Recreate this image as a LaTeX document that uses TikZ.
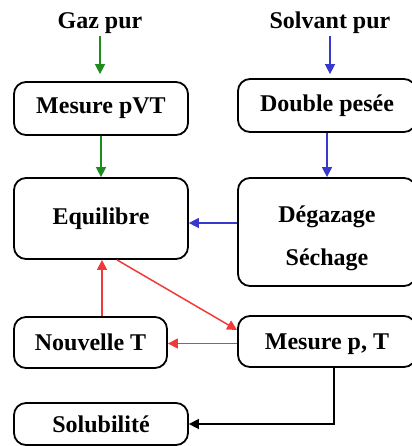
\documentclass[tikz,border=0pt]{standalone}
\usepackage{fontspec}
\setmainfont{Liberation Serif}
\usetikzlibrary{arrows.meta, positioning}
\definecolor{gazgreen}{HTML}{1E8C1E}
\definecolor{solvblue}{HTML}{3838CC}
\definecolor{cyclered}{HTML}{F03A3A}

\begin{document}
\begin{tikzpicture}[
  x=0.5pt, y=-0.5pt,
  box/.style={rectangle, draw, line width=0.9pt, rounded corners=6pt, align=center, inner sep=0pt, font=\fontsize{12}{21.5}\selectfont\bfseries},
  title/.style={inner sep=1pt, font=\fontsize{12}{14}\selectfont\bfseries},
  flow/.style={-{Triangle[length=5pt,width=5pt]}, line width=0.75pt}
]
  \clip (0,0) rectangle (412,446);

  \node[title] (gaz) at (100,23) {Gaz pur};
  \node[title] (solv) at (330,23) {Solvant pur};

  \node[box, minimum width=87pt, minimum height=26.5pt] (pvt) at (101,108.5) {Mesure pVT};
  \node[box, minimum width=87pt, minimum height=40.5pt] (equil) at (101,218.5) {Equilibre};
  \node[box, minimum width=76.5pt, minimum height=25.5pt] (nouv) at (90.5,342.5) {Nouvelle T};
  \node[box, minimum width=87pt, minimum height=21pt] (solub) at (101,424) {Solubilité};

  \node[box, minimum width=89pt, minimum height=26.5pt] (pesee) at (327,105.5) {Double pesée};
  \node[box, minimum width=89pt, minimum height=54pt] (degaz) at (327,232) {\rule{0pt}{15pt}Dégazage\\Séchage};
  \node[box, minimum width=89pt, minimum height=25.5pt, text depth=0pt] (mpt) at (327,341.5) {Mesure p, T};

  % gaz and solvent lines
  \draw[flow, gazgreen, shorten >=3.5pt] (gaz) -- (gaz |- pvt.north);
  \draw[flow, gazgreen] (pvt) -- (equil);
  \draw[flow, solvblue, shorten >=2pt] (solv) -- (solv |- pesee.north);
  \draw[flow, solvblue] (pesee) -- (degaz);
  \draw[flow, solvblue] ([yshift=4.5pt]degaz.west) -- ([yshift=4.5pt]degaz.west -| equil.east);

  % temperature cycle
  \draw[flow, cyclered] ([xshift=8pt]equil.south) -- ([yshift=5.75pt]mpt.west);
  \draw[flow, cyclered] ([yshift=-1pt]mpt.west) -- ([yshift=-1pt]mpt.west -| nouv.east);
  \draw[flow, cyclered] ([xshift=5.75pt]nouv.north) -- ([xshift=5.75pt]nouv.north |- equil.south);

  % result
  \draw[flow] ([xshift=3.5pt]mpt.south) |- (solub.east);
\end{tikzpicture}
\end{document}
